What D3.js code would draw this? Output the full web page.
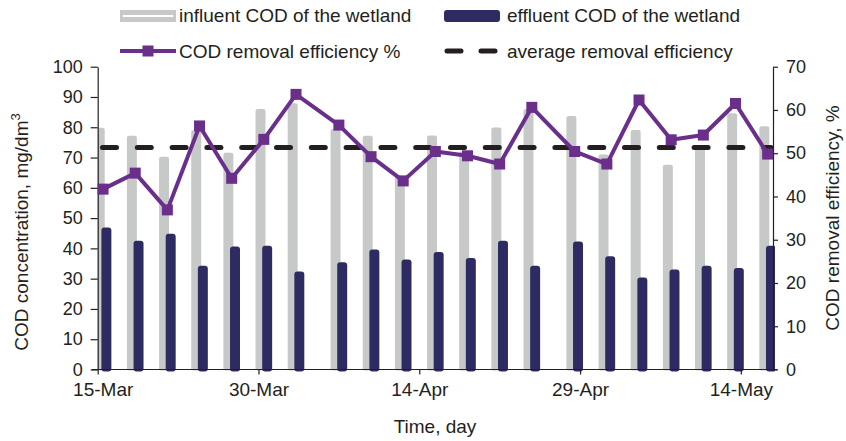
<!DOCTYPE html>
<html>
<head>
<meta charset="utf-8">
<script src="https://cdn.jsdelivr.net/npm/d3@7"></script>
<style>
  body { margin: 0; background: #fff; }
  svg { display: block; font-family: "Liberation Sans", Arial, sans-serif; }
  .axis text { fill: #231f20; }
  .axis path, .axis line { stroke: #231f20; stroke-width: 1.2; }
</style>
</head>
<body>
<div id="chart"></div>
<script>
// Data
const dates = ["2013-03-15", "2013-03-18", "2013-03-21", "2013-03-24", "2013-03-27", "2013-03-30",
    "2013-04-02", "2013-04-06", "2013-04-09", "2013-04-12", "2013-04-15", "2013-04-18",
    "2013-04-21", "2013-04-24", "2013-04-28", "2013-05-01", "2013-05-04", "2013-05-07",
    "2013-05-10", "2013-05-13", "2013-05-16"];
const influent = [79.8, 77.2, 70.3, 79, 71.6, 86.0, 87.9, 79.4, 77.2, 64, 77.3, 72,
    79.9, 86, 83.7, 71, 79.1, 67.6, 74, 84.6, 80.3];
const effluent = [46.9, 42.5, 44.8, 34.3, 40.6, 40.9, 32.4, 35.4, 39.6, 36.3, 38.8, 36.8,
    42.5, 34.3, 42.3, 37.4, 30.4, 33.0, 34.3, 33.5, 40.9];
const efficiency = [41.7, 45.4, 36.9, 56.3, 44.2, 53.2, 63.6, 56.5, 49.2, 43.6, 50.4, 49.4,
    47.5, 60.6, 50.4, 47.5, 62.3, 53.1, 54.2, 61.5, 49.8];
const averageEfficiency = 51.3;
const xTicks = ["2013-03-15", "2013-03-30", "2013-04-14", "2013-04-29", "2013-05-14"];
const leftTicks = [0, 10, 20, 30, 40, 50, 60, 70, 80, 90, 100];
const rightTicks = [0, 10, 20, 30, 40, 50, 60, 70];

const parse = d3.utcParse("%Y-%m-%d");
const HALF_DAY = 12 * 3600 * 1000;

// Plot box
const plotLeft = 97.7, plotRight = 773, plotTop = 66.7, plotBottom = 369.5;

const svg = d3.select("#chart")
    .append("svg")
    .attr("width", 846)
    .attr("height", 441);

const x = d3.scaleUtc()
    .domain([parse("2013-03-15"), parse("2013-05-17")])
    .range([plotLeft, plotRight]);

const y = d3.scaleLinear().domain([0, 100]).range([plotBottom, plotTop]);
const y2 = d3.scaleLinear().domain([0, 70]).range([plotBottom, plotTop]);

const rows = dates.map((d, i) => ({
    date: new Date(parse(d).getTime() + HALF_DAY),
    inf: influent[i],
    eff: effluent[i],
    pct: efficiency[i]
}));

const dayPx = x(parse("2013-03-16")) - x(parse("2013-03-15"));
const barW = dayPx * 0.93;
const shift = dayPx * 0.31;

svg.append("clipPath")
    .attr("id", "plot-clip")
    .append("rect")
    .attr("x", plotLeft)
    .attr("y", 0)
    .attr("width", plotRight - plotLeft + 2)
    .attr("height", plotBottom + 3);

const plot = svg.append("g").attr("clip-path", "url(#plot-clip)");

// influent bars (grey)
plot.selectAll(".inf")
    .data(rows)
    .enter()
    .append("rect")
    .attr("class", "inf")
    .attr("x", d => x(d.date) - shift - barW / 2)
    .attr("y", d => y(d.inf))
    .attr("width", barW)
    .attr("height", d => plotBottom - y(d.inf) + 1)
    .attr("rx", 2)
    .attr("fill", "#c7c8c8");

// effluent bars (navy)
plot.selectAll(".eff")
    .data(rows)
    .enter()
    .append("rect")
    .attr("class", "eff")
    .attr("x", d => x(d.date) + shift - barW / 2)
    .attr("y", d => y(d.eff))
    .attr("width", barW)
    .attr("height", d => plotBottom - y(d.eff) + 2)
    .attr("rx", 3)
    .attr("fill", "#2e2b63");

// axes
const xAxis = svg.append("g")
    .attr("class", "axis")
    .attr("transform", `translate(0,${plotBottom})`)
    .call(d3.axisBottom(x)
        .tickValues(xTicks.map(parse))
        .tickFormat(d3.utcFormat("%-d-%b"))
        .tickSize(5)
        .tickSizeOuter(0)
        .tickPadding(8));
xAxis.selectAll("text").attr("font-size", 19);
xAxis.select(".tick text").attr("dx", 5); // first label sits a bit right of its tick
xAxis.select(".domain").attr("d", `M${plotLeft - 6},0H${plotRight + 4}`);

const yAxis = svg.append("g")
    .attr("class", "axis")
    .attr("transform", `translate(${plotLeft},0)`)
    .call(d3.axisLeft(y).tickValues(leftTicks).tickSize(7).tickSizeOuter(0).tickPadding(8));
yAxis.selectAll("text").attr("font-size", 18);

const y2Axis = svg.append("g")
    .attr("class", "axis")
    .attr("transform", `translate(${plotRight},0)`)
    .call(d3.axisRight(y2).tickValues(rightTicks).tickSize(5).tickSizeOuter(0).tickPadding(8));
y2Axis.selectAll("text").attr("font-size", 18);

// average removal efficiency
svg.append("line")
    .attr("x1", plotLeft + 4.8)
    .attr("x2", plotRight - 2)
    .attr("y1", y2(averageEfficiency))
    .attr("y2", y2(averageEfficiency))
    .attr("stroke", "#231f20")
    .attr("stroke-width", 5)
    .attr("stroke-linecap", "round")
    .attr("stroke-dasharray", "14,20.8");

// removal efficiency line
const line = d3.line()
    .x(d => x(d.date))
    .y(d => y2(d.pct));

svg.append("path")
    .datum(rows)
    .attr("d", line)
    .attr("fill", "none")
    .attr("stroke", "#6a2f8a")
    .attr("stroke-width", 4)
    .attr("stroke-linejoin", "round");

svg.selectAll(".marker")
    .data(rows)
    .enter()
    .append("rect")
    .attr("class", "marker")
    .attr("x", d => x(d.date) - 5.5)
    .attr("y", d => y2(d.pct) - 5.5)
    .attr("width", 11)
    .attr("height", 11)
    .attr("fill", "#6a2f8a");

// axis titles
svg.append("text")
    .attr("x", 435)
    .attr("y", 433)
    .attr("text-anchor", "middle")
    .attr("font-size", 19)
    .attr("fill", "#231f20")
    .text("Time, day");

const yTitle = svg.append("text")
    .attr("transform", "translate(28,232) rotate(-90)")
    .attr("text-anchor", "middle")
    .attr("font-size", 19)
    .attr("fill", "#231f20");
yTitle.append("tspan").text("COD concentration, mg/dm");
yTitle.append("tspan").attr("font-size", 13).attr("dy", -8).text("3");

svg.append("text")
    .attr("transform", "translate(839,218) rotate(-90)")
    .attr("text-anchor", "middle")
    .attr("font-size", 19)
    .attr("fill", "#231f20")
    .text("COD removal efficiency, %");

// legend
const legend = svg.append("g").attr("font-size", 19).attr("fill", "#231f20");

legend.append("rect")
    .attr("x", 120).attr("y", 10).attr("width", 56).attr("height", 12)
    .attr("fill", "#c7c8c8");
legend.append("line")
    .attr("x1", 123).attr("x2", 173).attr("y1", 16).attr("y2", 16)
    .attr("stroke", "#fff").attr("stroke-width", 2);
legend.append("text").attr("x", 179).attr("y", 22).text("influent COD of the wetland");

legend.append("rect")
    .attr("x", 444).attr("y", 10).attr("width", 56).attr("height", 12).attr("rx", 3)
    .attr("fill", "#2e2b63");
legend.append("text").attr("x", 507).attr("y", 22).text("effluent COD of the wetland");

legend.append("line")
    .attr("x1", 120).attr("x2", 176).attr("y1", 51).attr("y2", 51)
    .attr("stroke", "#6a2f8a").attr("stroke-width", 4);
legend.append("rect")
    .attr("x", 142.5).attr("y", 45.5).attr("width", 11).attr("height", 11)
    .attr("fill", "#6a2f8a");
legend.append("text").attr("x", 179).attr("y", 58).text("COD removal efficiency %");

legend.append("line")
    .attr("x1", 447).attr("x2", 500).attr("y1", 51).attr("y2", 51)
    .attr("stroke", "#231f20").attr("stroke-width", 5)
    .attr("stroke-linecap", "round").attr("stroke-dasharray", "14,20");
legend.append("text").attr("x", 507).attr("y", 58).text("average removal efficiency");
</script>
</body>
</html>
